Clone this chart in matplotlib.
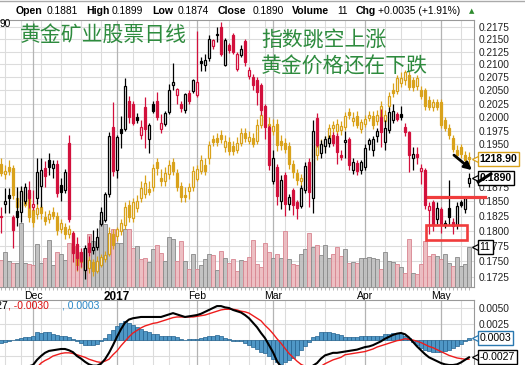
import numpy as np
import matplotlib
matplotlib.use("Agg")
import matplotlib.pyplot as plt
from matplotlib.patches import Rectangle
from matplotlib.ticker import FixedLocator, NullLocator, FormatStrFormatter, NullFormatter, FuncFormatter
from matplotlib.transforms import blended_transform_factory

# ---------------- data ----------------
s_open = [0.1825,0.1845,0.1860,0.1823,0.1833,0.1831,0.1850,0.1870,0.1840,0.1856,
          0.1876,0.1908,0.1922,0.1907,0.1915,0.1878,0.1869,0.1952,0.1797,0.1778,
          0.1765,0.1735,0.1780,0.1768,0.1773,0.1812,0.1818,0.1863,0.1982,0.1905,
          0.1979,0.1979,0.2030,0.2024,0.2001,0.1967,0.2018,0.1960,0.2024,0.2030,
          0.1978,0.1987,0.2010,0.2061,0.2041,0.2024,0.2014,0.2045,0.2049,0.2042,
          0.2107,0.2099,0.2113,0.2136,0.2158,0.2174,0.2099,0.2138,0.2158,0.2091,
          0.2119,0.2146,0.2078,0.2076,0.2070,0.2061,0.2021,0.1981,0.1885,0.1909,
          0.1850,0.1895,0.1846,0.1870,0.1848,0.1842,0.1870,0.1918,0.1855,0.1998,
          0.1935,0.1947,0.1952,0.1967,0.1965,0.1931,0.1955,0.1960,0.1904,0.1917,
          0.1904,0.1910,0.1950,0.1940,0.1965,0.2000,0.1954,0.1977,0.1995,0.2006,
          0.2006,0.1982,0.1973,0.1925,0.1933,0.1903,0.1904,0.1835,0.1848,0.1819,
          0.1837,0.1810,0.1839,0.1815,0.1810,0.1849,0.1837,0.1881]
s_high = [0.1840,0.1872,0.1872,0.1826,0.1875,0.1877,0.1882,0.1885,0.1870,0.1926,
          0.1926,0.1920,0.1935,0.1922,0.1922,0.1890,0.1906,0.1967,0.1800,0.1790,
          0.1772,0.1776,0.1792,0.1802,0.1805,0.1840,0.1866,0.1973,0.2028,0.1967,
          0.2003,0.2073,0.2040,0.2030,0.2008,0.1995,0.2038,0.1990,0.2030,0.2048,
          0.2005,0.2012,0.2062,0.2102,0.2054,0.2030,0.2046,0.2050,0.2072,0.2166,
          0.2115,0.2120,0.2158,0.2150,0.2175,0.2184,0.2152,0.2142,0.2162,0.2124,
          0.2138,0.2150,0.2095,0.2082,0.2075,0.2065,0.2025,0.1985,0.1940,0.1915,
          0.1895,0.1900,0.1862,0.1872,0.1852,0.1878,0.1918,0.1925,0.1995,0.2008,
          0.1958,0.1965,0.1968,0.1972,0.1970,0.1940,0.1975,0.1964,0.1925,0.1922,
          0.1922,0.1950,0.1962,0.1965,0.1980,0.2016,0.1995,0.2018,0.2025,0.2010,
          0.2020,0.1990,0.1975,0.1945,0.1945,0.1915,0.1908,0.1848,0.1852,0.1848,
          0.1840,0.1818,0.1887,0.1822,0.1848,0.1852,0.1858,0.1899]
s_low = [0.1797,0.1830,0.1830,0.1772,0.1808,0.1815,0.1845,0.1838,0.1835,0.1846,
         0.1840,0.1875,0.1895,0.1890,0.1858,0.1850,0.1864,0.1815,0.1748,0.1735,
         0.1740,0.1722,0.1758,0.1762,0.1768,0.1808,0.1815,0.1858,0.1893,0.1890,
         0.1944,0.1975,0.1990,0.1985,0.1990,0.1960,0.1944,0.1935,0.2008,0.1995,
         0.1970,0.1983,0.2005,0.2050,0.2025,0.2010,0.2008,0.2025,0.2045,0.2038,
         0.2087,0.2087,0.2107,0.2130,0.2145,0.2117,0.2097,0.2122,0.2120,0.2088,
         0.2115,0.2097,0.2072,0.2050,0.2023,0.2004,0.1960,0.1905,0.1880,0.1844,
         0.1836,0.1825,0.1835,0.1826,0.1820,0.1838,0.1865,0.1840,0.1830,0.1945,
         0.1925,0.1935,0.1945,0.1948,0.1915,0.1922,0.1925,0.1905,0.1898,0.1895,
         0.1898,0.1905,0.1940,0.1930,0.1955,0.1945,0.1940,0.1970,0.1990,0.1992,
         0.1995,0.1965,0.1900,0.1905,0.1915,0.1880,0.1836,0.1794,0.1800,0.1812,
         0.1797,0.1805,0.1810,0.1795,0.1803,0.1840,0.1830,0.1874]
s_close = [0.1823,0.1851,0.1856,0.1802,0.1823,0.1868,0.1875,0.1856,0.1846,0.1900,
           0.1905,0.1894,0.1910,0.1915,0.1864,0.1866,0.1900,0.1819,0.1764,0.1755,
           0.1750,0.1772,0.1765,0.1773,0.1789,0.1831,0.1862,0.1965,0.1903,0.1963,
           0.1970,0.2059,0.2000,0.1990,0.1995,0.1982,0.1978,0.1986,0.2012,0.2000,
           0.1989,0.2007,0.2051,0.2066,0.2052,0.2017,0.2043,0.2030,0.2070,0.2066,
           0.2103,0.2109,0.2150,0.2148,0.2160,0.2121,0.2148,0.2128,0.2125,0.2121,
           0.2130,0.2105,0.2089,0.2061,0.2047,0.2014,0.1981,0.1913,0.1925,0.1859,
           0.1887,0.1845,0.1857,0.1844,0.1838,0.1872,0.1912,0.1866,0.1975,0.1949,
           0.1950,0.1960,0.1962,0.1952,0.1937,0.1927,0.1958,0.1913,0.1918,0.1902,
           0.1918,0.1944,0.1958,0.1960,0.1975,0.1973,0.1980,0.2010,0.2012,0.1997,
           0.2001,0.1973,0.1931,0.1933,0.1927,0.1907,0.1844,0.1841,0.1810,0.1839,
           0.1810,0.1813,0.1823,0.1808,0.1841,0.1844,0.1855,0.1890]

g_open = [1215,1206,1212,1211,1186,1178,1180,1190,1176,1172,1178,1170,1168,1174,1171,1160,1162,1156,1155,1143,
          1133,1128,1128,1133,1126,1131,1136,1140,1156,1154,1158,1163,1180,1169,1177,1186,1189,1193,1195,1216,
          1203,1200,1206,1216,1207,1196,1188,1192,1195,1202,1209,1214,1220,1236,1237,1240,1229,1234,1230,1227,
          1233,1242,1235,1237,1235,1249,1254,1248,1243,1250,1235,1233,1230,1215,1207,1200,1201,1206,1214,1222,
          1229,1231,1235,1246,1243,1244,1247,1260,1252,1257,1245,1250,1255,1257,1252,1255,1252,1266,1280,1279,
          1286,1289,1294,1289,1284,1280,1280,1271,1265,1269,1269,1253,1246,1237,1227,1229,1222,1221]
g_high = [1220,1214,1218,1214,1192,1195,1196,1193,1180,1182,1181,1175,1176,1178,1174,1168,1165,1163,1158,1146,
          1138,1140,1138,1136,1138,1140,1142,1162,1160,1162,1168,1182,1184,1186,1188,1200,1205,1200,1215,1220,
          1210,1212,1218,1220,1210,1199,1195,1198,1213,1214,1222,1220,1235,1240,1242,1244,1240,1238,1235,1238,
          1246,1246,1243,1242,1254,1262,1260,1256,1254,1254,1240,1237,1234,1218,1210,1206,1210,1218,1232,1236,
          1236,1239,1250,1252,1254,1252,1260,1264,1260,1261,1254,1258,1261,1261,1262,1270,1262,1278,1286,1294,
          1296,1298,1297,1292,1294,1284,1282,1275,1272,1272,1272,1256,1250,1240,1231,1232,1226,1225]
g_low = [1204,1202,1205,1185,1174,1175,1178,1166,1162,1168,1168,1163,1165,1168,1155,1157,1152,1153,1140,1126,
         1128,1125,1124,1122,1124,1129,1133,1138,1144,1150,1155,1160,1166,1166,1174,1182,1186,1188,1192,1205,
         1196,1196,1202,1205,1192,1182,1182,1185,1192,1200,1206,1205,1215,1230,1230,1233,1225,1222,1222,1224,
         1230,1234,1232,1229,1232,1246,1248,1245,1240,1226,1227,1224,1210,1203,1197,1196,1198,1204,1210,1218,
         1226,1227,1232,1242,1240,1240,1244,1254,1248,1246,1242,1247,1252,1245,1249,1252,1248,1262,1274,1276,
         1283,1285,1280,1279,1280,1272,1262,1262,1261,1262,1246,1243,1236,1225,1219,1220,1215,1215]
g_close = [1207,1209,1209,1188,1178,1192,1190,1170,1166,1177,1173,1167,1172,1171,1159,1165,1156,1160,1143,1131,
           1135,1137,1135,1126,1134,1137,1139,1157,1147,1160,1165,1178,1170,1182,1183,1194,1198,1191,1211,1211,
           1200,1207,1214,1209,1195,1187,1187,1195,1209,1210,1218,1209,1231,1234,1234,1236,1235,1226,1226,1233,
           1242,1237,1238,1232,1249,1258,1252,1250,1248,1231,1231,1228,1215,1208,1201,1203,1205,1214,1228,1232,
           1232,1235,1246,1249,1250,1248,1257,1258,1255,1249,1251,1254,1258,1249,1258,1266,1258,1275,1277,1291,
           1291,1296,1283,1283,1291,1275,1266,1265,1269,1265,1249,1246,1240,1228,1222,1223,1218,1218.90]

volume = [7.4,9.6,7.2,6.6,6.6,17.6,6.6,6.3,6.0,11.8,6.6,8.0,12.9,6.0,9.6,9.1,7.4,12.1,11.3,8.8,
          9.6,10.7,14.6,12.7,12.1,18.4,17.3,14.6,16.0,12.1,12.1,16.0,16.0,10.7,11.3,7.7,8.0,6.9,10.5,11.6,
          9.4,7.2,13.8,13.2,7.2,12.7,7.2,5.0,9.1,5.0,6.0,7.7,9.0,8.8,4.7,9.9,8.0,6.6,7.7,4.4,
          7.4,7.2,8.3,12.9,6.3,5.5,12.1,9.6,8.0,9.1,8.0,15.4,7.7,6.3,6.0,9.1,10.5,14.9,11.0,11.6,
          8.8,11.6,8.0,9.1,11.0,8.5,10.5,6.6,6.9,6.6,8.0,8.0,8.3,8.0,7.7,5.0,9.6,7.2,6.9,6.3,
          5.5,3.9,13.2,3.9,3.6,6.3,12.7,8.5,9.1,8.5,7.7,9.1,6.6,5.8,8.3,5.8,6.3,11]

macd = [-0.0055,-0.0053,-0.0051,-0.0049,-0.0047,-0.0045,-0.0043,-0.0041,-0.0039,-0.0031,
        -0.0025,-0.0020,-0.0017,-0.0016,-0.0015,-0.0014,-0.0014,-0.0016,-0.0019,-0.0025,
        -0.0029,-0.0034,-0.0038,-0.0040,-0.0040,-0.0037,-0.0030,-0.0020,-0.0008,0.0005,
        0.0017,0.0027,0.0032,0.0034,0.0035,0.0036,0.0036,0.0036,0.0036,0.0036,
        0.0036,0.0038,0.0040,0.0042,0.0040,0.0038,0.0036,0.0037,0.0038,0.0039,
        0.0041,0.0044,0.0047,0.0050,0.0053,0.0053,0.0051,0.0050,0.0047,0.0045,
        0.0043,0.0039,0.0034,0.0027,0.0020,0.0011,0.0003,-0.0008,-0.0019,-0.0033,
        -0.0042,-0.0048,-0.0052,-0.0055,-0.0056,-0.0054,-0.0050,-0.0046,-0.0040,-0.0036,
        -0.0029,-0.0024,-0.0022,-0.0020,-0.0020,-0.0019,-0.0018,-0.0017,-0.0016,-0.0015,
        -0.0013,-0.0011,-0.0010,-0.0008,-0.0005,-0.0002,0.0002,0.0005,0.0008,0.0010,
        0.0011,0.0009,0.0004,-0.0003,-0.0010,-0.0016,-0.0022,-0.0027,-0.0030,-0.0033,
        -0.0036,-0.0038,-0.0039,-0.0039,-0.0038,-0.0035,-0.0031,-0.0027]
signal = [-0.0050,-0.0050,-0.0050,-0.0049,-0.0049,-0.0048,-0.0047,-0.0046,-0.0045,-0.0043,
          -0.0036,-0.0032,-0.0029,-0.0025,-0.0023,-0.0021,-0.0020,-0.0020,-0.0021,-0.0023,
          -0.0025,-0.0027,-0.0030,-0.0032,-0.0034,-0.0035,-0.0033,-0.0030,-0.0023,-0.0017,
          -0.0009,-0.0002,0.0005,0.0011,0.0015,0.0019,0.0022,0.0024,0.0026,0.0027,
          0.0029,0.0031,0.0033,0.0035,0.0036,0.0036,0.0036,0.0036,0.0036,0.0037,
          0.0038,0.0039,0.0041,0.0043,0.0045,0.0047,0.0048,0.0048,0.0048,0.0047,
          0.0045,0.0044,0.0042,0.0038,0.0034,0.0030,0.0023,0.0017,0.0010,0.0002,
          -0.0005,-0.0013,-0.0021,-0.0027,-0.0033,-0.0038,-0.0041,-0.0043,-0.0044,-0.0043,
          -0.0041,-0.0037,-0.0034,-0.0031,-0.0029,-0.0027,-0.0023,-0.0022,-0.0021,-0.0020,
          -0.0019,-0.0018,-0.0016,-0.0014,-0.0011,-0.0009,-0.0007,-0.0005,-0.0003,-0.0001,
          0.0000,0.0002,0.0001,0.0000,-0.0002,-0.0004,-0.0007,-0.0010,-0.0012,-0.0015,
          -0.0018,-0.0021,-0.0024,-0.0026,-0.0028,-0.0029,-0.0030,-0.0030]

chg_abs = 0.0035
chg_pct = 1.91

price_ticks = [0.1725,0.1750,0.1775,0.1800,0.1825,0.1850,0.1875,0.1900,0.1925,0.1950,
               0.1975,0.2000,0.2025,0.2050,0.2075,0.2100,0.2125,0.2150,0.2175]
hidden_price_labels = [0.1900, 0.1925]
macd_ticks = [0.0050, 0.0025]
macd_grid = [0.0050, 0.0025, 0.0, -0.0025]
month_idx = [8, 29, 49, 68, 91, 110]
month_lbl = ['Dec', '2017', 'Feb', 'Mar', 'Apr', 'May']
week_idx = [1, 5, 10, 15, 20, 25, 33, 38, 42, 47, 52, 57, 62, 66, 71, 76, 81, 86, 96, 100, 105, 115]

# ---------------- style ----------------
RED = '#d2103c'
GOLD = '#d9a21b'
GRID = '#dcdcdc'
MGRID = '#b4b4b4'
LAT = 'Liberation Sans'
CJK = ['Noto Sans CJK SC', 'DejaVu Sans']

W, H = 525, 365
fig = plt.figure(figsize=(W / 100, H / 100), dpi=100)
fig.patch.set_facecolor('white')


def rect(px0, py0, px1, py1):
    return [px0 / W, 1 - py1 / H, (px1 - px0) / W, (py1 - py0) / H]


MAIN = rect(0, 20, 474, 287)
MACDR = rect(0, 300, 474, 365)
n = len(s_close)
xs = np.arange(n)
XLIM = (-0.25, n + 0.25)
PLIM = (0.17086, 0.21884)
GLIM = (1113.3, 1345.1)
VLIM = (0, 73.4)
MLIM = (-0.0039, 0.00625)

# ---- background / grid axes ----
axg = fig.add_axes(MAIN)
axg.set_xlim(*XLIM)
axg.set_yscale('log')
axg.set_ylim(*PLIM)
axg.yaxis.set_major_locator(FixedLocator(price_ticks))
axg.yaxis.set_minor_locator(NullLocator())


def pfmt(v, pos):
    if any(abs(v - h) < 1e-6 for h in hidden_price_labels):
        return ''
    return '%.4f' % v


axg.yaxis.set_major_formatter(FuncFormatter(pfmt))
axg.yaxis.set_minor_formatter(NullFormatter())
axg.yaxis.tick_right()
axg.tick_params(axis='y', length=0, pad=3.5, labelsize=7.3, labelcolor='#222')
for lab in axg.get_yticklabels():
    lab.set_fontfamily(LAT)
for t in price_ticks:
    axg.axhline(t, color=GRID, lw=0.8, zorder=0)
for w in week_idx:
    axg.axvline(w, color=GRID, lw=0.8, zorder=0)
for m in month_idx:
    axg.axvline(m, color=MGRID, lw=0.9, zorder=0)
axg.set_xticks(month_idx)
axg.set_xticklabels(month_lbl, fontfamily=LAT, fontsize=7.5)
axg.get_xticklabels()[1].set_fontweight('bold')
axg.get_xticklabels()[1].set_fontsize(8.5)
axg.xaxis.set_minor_locator(FixedLocator(list(xs)))
axg.tick_params(axis='x', which='major', length=2.5, pad=0.5, color='#999')
axg.tick_params(axis='x', which='minor', length=2, color='#aaa')
axg.spines['left'].set_visible(False)
for s in ['top', 'right', 'bottom']:
    axg.spines[s].set_color('#999')
    axg.spines[s].set_linewidth(0.8)

# ---- volume ----
axv = fig.add_axes(MAIN)
axv.set_xlim(*XLIM)
axv.set_ylim(*VLIM)
axv.axis('off')
vcol, vedge = [], []
for i in range(n):
    ref = s_close[i - 1] if i > 0 else s_open[0]
    up = s_close[i] >= ref
    vcol.append('#bdbdbd' if up else '#ebb8bd')
    vedge.append('#8c8c8c' if up else '#d98893')
axv.bar(xs, volume, width=0.85, color=vcol, edgecolor=vedge, linewidth=0.7, alpha=0.9)

# ---- gold overlay ----
axo = fig.add_axes(MAIN)
axo.set_xlim(*XLIM)
axo.set_yscale('log')
axo.set_ylim(*GLIM)
axo.axis('off')


def candles(ax, o, h, l, c, colors, w=0.68, lw=0.9):
    for i in range(len(c)):
        col = colors[i]
        ax.vlines(i, l[i], h[i], color=col, lw=lw, zorder=2)
        lo, hi = min(o[i], c[i]), max(o[i], c[i])
        filled = c[i] < o[i]
        if hi - lo < 1e-9 * hi:
            ax.hlines(lo, i - w / 2, i + w / 2, color=col, lw=lw + 0.3, zorder=3)
        else:
            ax.add_patch(Rectangle((i - w / 2, lo), w, hi - lo,
                                   facecolor=col if filled else 'white',
                                   edgecolor=col, lw=lw, zorder=3))


candles(axo, g_open, g_high, g_low, g_close, [GOLD] * n)

# ---- stock ----
axs = fig.add_axes(MAIN)
axs.set_xlim(*XLIM)
axs.set_yscale('log')
axs.set_ylim(*PLIM)
axs.axis('off')
scol = []
for i in range(n):
    ref = s_close[i - 1] if i > 0 else s_open[0]
    scol.append('black' if s_close[i] >= ref else RED)
candles(axs, s_open, s_high, s_low, s_close, scol)

# ---- tags on right ----


def tag(ax, y, text, ec, fs=7.6, bold=True, dx=1.012, ms=9):
    tr = blended_transform_factory(ax.transAxes, ax.transData)
    ax.plot([1.0085], [y], marker='<', ms=ms, mfc='white', mec=ec, mew=0.9,
            transform=tr, clip_on=False, zorder=20)
    ax.text(dx, y, text, transform=tr, ha='left', va='center', fontsize=fs,
            fontfamily=LAT, fontweight='bold' if bold else 'normal', color='black',
            bbox=dict(boxstyle='square,pad=0.18', fc='white', ec=ec, lw=1.0),
            zorder=21, clip_on=False)


tag(axo, g_close[-1], '%.2f' % g_close[-1], GOLD)
tag(axs, s_close[-1], '%.4f' % s_close[-1], 'black')
tag(axv, volume[-1], '%d' % volume[-1], 'black', fs=7.6, bold=False, ms=8)

# annotations
axs.annotate('', xy=(118.3, 0.1901), xytext=(112.7, 0.1934),
             arrowprops=dict(arrowstyle='-|>', color='black', lw=2.0, mutation_scale=11),
             annotation_clip=False, zorder=30)
axs.plot([119.0, 122.8], [0.1882, 0.1899], color='black', lw=2.2, clip_on=False, zorder=30,
         solid_capstyle='butt')
axs.plot([106.75, 121.0], [0.18574, 0.18574], color='#f03c3c', lw=2.3, clip_on=False, zorder=25)
axs.add_patch(Rectangle((106.3, 0.17846), 10.2, 0.18095 - 0.17846, fill=False,
                        edgecolor='#f03c3c', lw=1.9, zorder=25))

# ---- MACD panel ----
axm = fig.add_axes(MACDR)
axm.set_xlim(*XLIM)
axm.set_ylim(*MLIM)
for t in macd_grid:
    axm.axhline(t, color=GRID, lw=0.8, zorder=0)
for w in week_idx:
    axm.axvline(w, color=GRID, lw=0.8, zorder=0)
for m in month_idx:
    axm.axvline(m, color=MGRID, lw=0.9, zorder=0)
hist = np.array(macd) - np.array(signal)
axm.bar(xs, hist, width=0.9, color='#4f97c6', edgecolor='#23628f', linewidth=0.5, zorder=2)
axm.plot(xs, signal, color='#ee1c1c', lw=1.0, zorder=3)
axm.plot(xs, macd, color='black', lw=1.5, zorder=4)
axm.yaxis.tick_right()
axm.set_yticks(macd_ticks)
axm.yaxis.set_major_formatter(FormatStrFormatter('%.4f'))
axm.tick_params(axis='y', length=0, pad=3.5, labelsize=7.3, labelcolor='#222')
for lab in axm.get_yticklabels():
    lab.set_fontfamily(LAT)
axm.set_xticks([])
for s in ['left', 'bottom']:
    axm.spines[s].set_visible(False)
for s in ['top', 'right']:
    axm.spines[s].set_color('#999')
    axm.spines[s].set_linewidth(0.8)
tag(axm, hist[-1], '%.4f' % hist[-1], '#2a78b0', bold=False)
tag(axm, macd[-1], '%.4f' % macd[-1], 'black', bold=False)

# MACD legend text (left part cut off by the frame, as in the source)
ly = 1 - 306 / H
fig.text(8 / W, ly, 'MACD(12,26,9) %.4f' % macd[-1], ha='right', va='center',
         fontsize=7.5, fontfamily=LAT, color='black')
fig.text(8 / W, ly, ', %.4f' % signal[-1], ha='left', va='center',
         fontsize=7.5, fontfamily=LAT, color='#e01010')
fig.text(62 / W, ly, ', %.4f' % hist[-1], ha='left', va='center',
         fontsize=7.5, fontfamily=LAT, color='#2a88c8')

# ---- header ----
hy = 1 - 11 / H
header = [(16, 'Open', True), (47, '%.4f' % s_open[-1], False),
          (86, 'High', True), (112, '%.4f' % s_high[-1], False),
          (152, 'Low', True), (178, '%.4f' % s_low[-1], False),
          (218, 'Close', True), (253, '%.4f' % s_close[-1], False),
          (292, 'Volume', True), (337, '%d' % volume[-1], False),
          (356, 'Chg', True),
          (378, '+%.4f (+%.2f%%)' % (chg_abs, chg_pct), False)]
for px, txt, b in header:
    fig.text(px / W, hy, txt, ha='left', va='center', fontsize=7.6 if b else 7.4,
             fontfamily=LAT, fontweight='bold' if b else 'normal', color='black')
fig.text(469 / W, hy, '▲', ha='left', va='center', fontsize=5, color='#2e8b2e',
         fontfamily='DejaVu Sans')
fig.add_artist(plt.Line2D([0, 1], [1 - 0.5 / H] * 2, color='#aaaaaa', lw=1))
fig.text(0, 1 - 24 / H, '90', ha='left', va='center', fontsize=7.3, fontfamily=LAT)

# ---- Chinese annotations ----
fig.text(20 / W, 1 - 35 / H, '黄金矿业股票日线', ha='left', va='center', fontsize=15,
         family=CJK, color='#2e8b3e')
fig.text(261 / W, 1 - 41 / H, '指数跳空上涨', ha='left', va='center', fontsize=15,
         family=CJK, color='#2e8b3e')
fig.text(261 / W, 1 - 67 / H, '黄金价格还在下跌', ha='left', va='center', fontsize=15,
         family=CJK, color='#2e8b3e')

fig.savefig('out.png', dpi=100, facecolor='white')
